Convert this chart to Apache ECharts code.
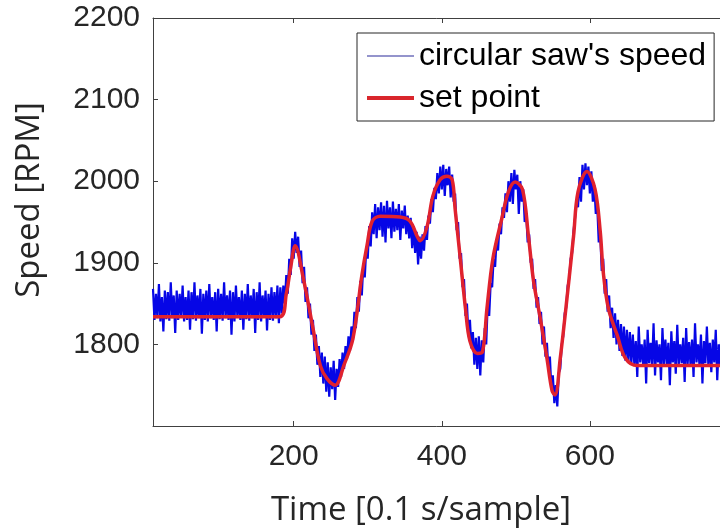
<!DOCTYPE html>
<html>
<head>
<meta charset="utf-8">
<script src="https://cdn.jsdelivr.net/npm/echarts@6/dist/echarts.min.js"></script>
<style>
  html, body { margin: 0; padding: 0; background: #fff; overflow: hidden; }
  #main { width: 720px; height: 529px; }
</style>
</head>
<body>
<div id="main"></div>
<script>
// measured speed, one value every 2 samples starting at sample 10
var speedStart = 10;
var speedStep = 2;
var speedValues = [
  // steady state before the first change (samples 10-180)
  1868,1830,1862,1832,1874,1828,1858,1816,1866,1831,
  1864,1829,1876,1832,1860,1814,1866,1830,1862,1833,
  1872,1828,1858,1830,1866,1818,1864,1831,1876,1829,
  1860,1832,1868,1813,1862,1830,1866,1828,1874,1832,
  1858,1830,1864,1816,1868,1831,1862,1829,1876,1832,
  1860,1830,1866,1812,1864,1828,1872,1833,1858,1830,
  1866,1818,1862,1831,1874,1829,1860,1832,1868,1814,
  1864,1830,1876,1828,1860,1833,1866,1817,1862,1830,
  1870,1829,1864,1832,1872,1826,
  // tracking section (samples 182-656)
  1870,1838,1872,1850,1885,1862,1905,1885,1930,1905,
  1938,1912,1932,1895,1915,1875,1895,1852,1870,1832,
  1850,1812,1830,1792,1812,1775,1798,1760,1790,1752,
  1785,1742,1778,1736,1772,1745,1780,1732,1770,1748,
  1782,1760,1790,1770,1798,1782,1810,1792,1822,1805,
  1840,1820,1858,1840,1878,1860,1898,1882,1918,1905,
  1945,1920,1962,1935,1972,1930,1968,1940,1974,1932,
  1970,1925,1976,1942,1968,1930,1975,1938,1966,1940,
  1972,1928,1964,1942,1970,1935,1958,1930,1955,1918,
  1945,1912,1938,1898,1932,1905,1935,1915,1945,1928,
  1958,1948,1978,1962,1992,1978,2010,1985,2018,1990,
  2020,1982,2015,1995,2018,1980,2008,1975,1985,1940,
  1950,1905,1912,1870,1880,1835,1850,1810,1830,1795,
  1815,1775,1808,1770,1810,1762,1805,1778,1820,1800,
  1850,1835,1875,1870,1905,1895,1928,1915,1948,1935,
  1968,1955,1985,1962,2000,1975,2010,1972,2014,1990,
  2008,1960,2000,1975,1990,1950,1960,1925,1935,1900,
  1905,1868,1880,1845,1858,1825,1840,1800,1822,1785,
  1802,1768,1785,1745,1762,1728,1750,1724,1765,1770,
  1800,1810,1838,1845,1872,1880,1905,1912,1940,1955,
  1975,1968,2005,1975,2020,1990,2022,1995,2018,1985,
  2012,1975,1995,1960,1968,1925,1935,1890,1905,1862,
  1880,1840,1860,1820,1845,1808,1838,1800,1830,1792,
  1825,1786,1822,1780,1818,1778,1815,1776,
  // steady state after the last change (samples 658-850)
  1812,1776,1804,1760,1822,1778,1800,1775,1806,1752,
  1818,1777,1802,1774,1826,1762,1805,1778,1800,1756,
  1820,1776,1806,1774,1802,1750,1816,1778,1804,1764,
  1824,1775,1800,1777,1808,1754,1820,1776,1803,1774,
  1806,1760,1826,1778,1800,1775,1812,1752,1804,1777,
  1822,1774,1802,1766,1806,1778,1818,1756,1800,1775,
  1824,1776,1804,1762,1808,1778,1802,1750,1820,1774,
  1806,1777,1800,1758,1816,1775,1804,1778,1826,1764,
  1802,1776,1808,1754,1818,1774,1800,1777,1806,1760,
  1822,1778,1804,1775,1812,1756,1802
];

// set point read at the corners of the red curve
var setTime = [10, 181, 190, 196, 202, 213, 226, 236, 245, 256, 268, 280, 292, 299, 306, 317, 344, 357,
  367, 371, 380, 388, 398, 407, 414, 418, 425, 432, 438, 448, 455, 461, 469, 481, 490, 499, 509, 517,
  524, 533, 542, 549, 553, 560, 569, 578, 584, 596, 607, 614, 618, 625, 637, 648, 664, 850];
var setSpeed = [1834, 1834, 1862, 1895, 1921, 1881, 1820, 1774, 1758, 1750, 1775, 1807, 1884, 1921, 1951,
  1957, 1956, 1951, 1932, 1927, 1944, 1982, 2002, 2006, 2002, 1966, 1905, 1844, 1804, 1789, 1791, 1844,
  1905, 1954, 1987, 1999, 1990, 1933, 1877, 1832, 1783, 1743, 1738, 1783, 1856, 1933, 1987, 2012, 1990,
  1938, 1889, 1844, 1811, 1783, 1774, 1774];

var xTicks = [200, 400, 600, 800];
var xLabels = [200, 400, 600];
var yMin = 1700, yMax = 2200, yStep = 100;
var xMin = 10, xMax = 850;

var speedData = speedValues.map(function(v, i) { return [speedStart + i * speedStep, v]; });
var setData = setTime.map(function(t, i) { return [t, setSpeed[i]]; });

var axisColor = '#404040';
var textColor = '#262626';

var chart = echarts.init(document.getElementById('main'));
chart.setOption({
  animation: false,
  backgroundColor: '#fff',
  // the plot box runs past the right edge of the picture, as in the cropped original
  grid: { left: 153, top: 18, width: 622, height: 408, outerBoundsMode: 'none' },
  legend: {
    orient: 'vertical',
    left: 357, top: 33,
    backgroundColor: '#fff',
    borderColor: '#262626', borderWidth: 1, borderRadius: 0,
    padding: [6, 8, 6, 10],
    itemWidth: 47, itemHeight: 14, itemGap: 8,
    textStyle: { fontFamily: 'Liberation Sans', fontSize: 32, color: '#000', lineHeight: 34 },
    data: [
      { name: "circular saw's speed", icon: 'path://M0,0 L47,0 L47,1 L0,1 Z', itemStyle: { color: '#2a2a9a' } },
      { name: 'set point', icon: 'path://M0,0 L47,0 L47,4 L0,4 Z', itemStyle: { color: '#d9262c' } }
    ]
  },
  xAxis: [{
    type: 'value', min: xMin, max: xMax,
    axisLine: { lineStyle: { color: axisColor, width: 1 } },
    axisTick: { inside: true, length: 5, customValues: xTicks, lineStyle: { color: axisColor } },
    axisLabel: { customValues: xLabels, fontFamily: 'Liberation Sans', fontSize: 30, color: textColor, margin: 16 },
    splitLine: { show: false }
  }, {
    type: 'value', min: xMin, max: xMax, position: 'top',
    axisLine: { show: true, lineStyle: { color: axisColor, width: 1 } },
    axisTick: { inside: true, length: 5, customValues: xTicks, lineStyle: { color: axisColor } },
    axisLabel: { show: false },
    splitLine: { show: false }
  }],
  yAxis: {
    type: 'value', min: yMin, max: yMax, interval: yStep,
    axisLine: { show: true, lineStyle: { color: axisColor, width: 1 } },
    axisTick: { show: true, inside: true, length: 5, lineStyle: { color: axisColor } },
    axisLabel: {
      showMinLabel: false, fontFamily: 'Liberation Sans', fontSize: 30, color: textColor, margin: 13,
      formatter: function(v) { return String(v); }
    },
    splitLine: { show: false }
  },
  graphic: [{
    type: 'text', x: 421, y: 511,
    style: { text: 'Time [0.1 s/sample]', font: '33px "Open Sans"', fill: textColor, align: 'center', verticalAlign: 'middle' }
  }, {
    type: 'text', x: 30, y: 200, rotation: Math.PI / 2,
    style: { text: 'Speed [RPM]', font: '33px "Open Sans"', fill: textColor, align: 'center', verticalAlign: 'middle' }
  }],
  series: [{
    name: "circular saw's speed",
    type: 'line', data: speedData, symbol: 'none',
    lineStyle: { color: '#0606e6', width: 2.2 },
    itemStyle: { color: '#2a2a9a' },
    z: 2
  }, {
    name: 'set point',
    type: 'line', data: setData, symbol: 'none',
    smooth: 0.35,
    lineStyle: { color: '#e0222e', width: 3.5 },
    itemStyle: { color: '#d9262c' },
    z: 3
  }]
});
</script>
</body>
</html>
